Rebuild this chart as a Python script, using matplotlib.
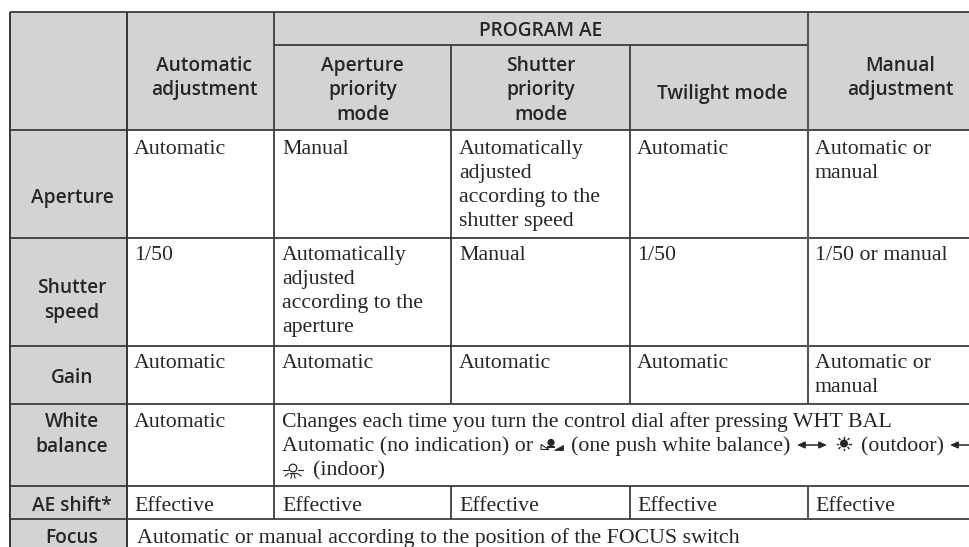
import matplotlib
matplotlib.use("Agg")
import matplotlib.pyplot as plt
from matplotlib.patches import Rectangle, Polygon, Circle

# ---- table content ----
row_labels = [["Aperture"], ["Shutter", "speed"], ["Gain"], ["White", "balance"], ["AE shift*"], ["Focus"]]
group_header = "PROGRAM AE"
col_headers = [["Automatic", "adjustment"], ["Aperture", "priority", "mode"], ["Shutter", "priority", "mode"],
               ["Twilight mode"], ["Manual", "adjustment"]]
aperture = [["Automatic"], ["Manual"], ["Automatically", "adjusted", "according to the", "shutter speed"],
            ["Automatic"], ["Automatic or", "manual"]]
shutter = [["1/50"], ["Automatically", "adjusted", "according to the", "aperture"], ["Manual"],
           ["1/50"], ["1/50 or manual"]]
gain = [["Automatic"], ["Automatic"], ["Automatic"], ["Automatic"], ["Automatic or", "manual"]]
white_first = "Automatic"
white_line1 = "Changes each time you turn the control dial after pressing WHT BAL"
white_line2a = "Automatic (no indication) or"
white_line2b = "(one push white balance)"
white_line2c = "(outdoor)"
white_line3 = "(indoor)"
ae_shift = ["Effective"] * 5
focus = "Automatic or manual according to the position of the FOCUS switch"

# ---- layout in reference pixels ----
V = [10.5, 127.5, 274.5, 451.5, 630.5, 808]
H = [12, 44.5, 130, 238, 346, 403.7, 486, 519.3]
W, HT = 970, 547
GRAY = "#d1d3d5"
INK = "#262626"
LINE = "#363636"
SERIF = ["Liberation Serif", "DejaVu Serif"]
SANS = ["Open Sans", "DejaVu Sans"]
FS = 15.75
FH = 13.8

fig = plt.figure(figsize=(9.7, 5.47), dpi=100, facecolor="white")
ax = fig.add_axes([0, 0, 1, 1])
ax.set_xlim(0, W)
ax.set_ylim(HT, 0)
ax.axis("off")

# fills
ax.add_patch(Rectangle((V[0], H[0]), W - V[0], H[2] - H[0], fc=GRAY, ec="none"))
ax.add_patch(Rectangle((V[0], H[0]), V[1] - V[0], HT - H[0], fc=GRAY, ec="none"))

# rules
def hl(y, x0=V[0], x1=W, lw=1.25):
    ax.plot([x0, x1], [y, y], color=LINE, lw=lw, solid_capstyle="butt")
def vl(x, y0, y1, lw=1.25, c=LINE):
    ax.plot([x, x], [y0, y1], color=c, lw=lw, solid_capstyle="butt")

hl(H[0])
hl(H[1], V[2], V[5])
for y in H[2:]:
    hl(y)
vl(V[0], H[0], HT, 1.4)
vl(V[1], H[0], HT, 1.4)
vl(V[2], H[0], H[7])
vl(V[3], H[1], H[5])
vl(V[3], H[6], H[7])
vl(V[4], H[1], H[5])
vl(V[4], H[6], H[7])
vl(V[5], H[0], H[5], 1.5, "#555555")
vl(V[5], H[6], H[7], 1.5, "#555555")

def sans(x, y, s, ha="center"):
    ax.text(x, y, s, family=SANS, weight="semibold", fontsize=FH, color=INK, ha=ha, va="baseline")
def serif(x, y, s, **kw):
    ax.text(x, y, s, family=SERIF, fontsize=FS, color=INK, ha="left", va="baseline", **kw)

# headers
sans(541, 36, group_header)
hc = [204, 362.5, 541, 722, 900]
hb = [[71, 95.5], [71, 95.5, 119.5], [71, 95.5, 119.5], [99], [71, 95.5]]
for c, ys, lines in zip(hc, hb, col_headers):
    for y, s in zip(ys, lines):
        sans(c, y, s)

# row labels
rb = [[203], [293, 318], [383], [427, 452], [511], [543]]
for ys, lines in zip(rb, row_labels):
    for y, s in zip(ys, lines):
        sans(72, y, s)

# body
cx = [134, 282, 459, 637, 815]
STEP = 24
for base, row in zip([154, 260, 368], [aperture, shutter, gain]):
    for x, lines in zip(cx, row):
        for i, s in enumerate(lines):
            serif(x, base + i * STEP, s)

serif(cx[0], 427, white_first)
serif(cx[1], 427, white_line1)
serif(cx[1], 451, white_line2a)
serif(571, 451, white_line2b)
ax.annotate("", xy=(797, 445), xytext=(827, 445),
            arrowprops=dict(arrowstyle="<|-|>,head_width=0.2,head_length=0.45", color=INK, lw=1.1, shrinkA=0, shrinkB=0))
serif(861, 451, white_line2c)
ax.annotate("", xy=(950, 445), xytext=(972, 445),
            arrowprops=dict(arrowstyle="-|>,head_width=0.2,head_length=0.45", color=INK, lw=1.1, shrinkA=0, shrinkB=0))

# sun icon
ax.add_patch(Circle((844, 443.5), 4, fc=INK, ec="none"))
for (a, b, c, d) in [(837, 443.5, 838.5, 443.5), (849.5, 443.5, 851, 443.5), (844, 437, 844, 438.5), (844, 448.5, 844, 450),
                     (839, 438.5, 840, 439.5), (849, 438.5, 848, 439.5), (839, 448.5, 840, 447.5), (849, 448.5, 848, 447.5)]:
    ax.plot([a, c], [b, d], color=INK, lw=1)

# one-push icon
ax.add_patch(Circle((551, 442.5), 3.6, fc=INK, ec="none"))
ax.add_patch(Rectangle((547, 445.5), 8, 2, fc=INK, ec="none"))
ax.add_patch(Polygon([[541, 444.5], [541, 449.5], [549, 449.5]], closed=True, fc="none", ec=INK, lw=0.8))
ax.add_patch(Polygon([[563, 444.5], [563, 449.5], [554, 449.5]], closed=True, fc=INK, ec=INK, lw=0.6))
# lamp icon
ax.add_patch(Circle((293, 468), 3.8, fc="none", ec=INK, lw=0.9))
for (a, b, c, d) in [(283, 470, 288, 470), (298, 470, 303, 470), (285, 476, 288.5, 473.5), (301, 476, 297.5, 473.5),
                     (291, 478, 291.7, 474.5), (295, 478, 294.3, 474.5), (290, 472.5, 296, 472.5)]:
    ax.plot([a, c], [b, d], color=INK, lw=0.8)
serif(313, 475, white_line3)

for x, s in zip(cx, ae_shift):
    serif(x, 510.7, s)
serif(137, 543, focus)

fig.savefig("out.png", dpi=100, facecolor="white")
